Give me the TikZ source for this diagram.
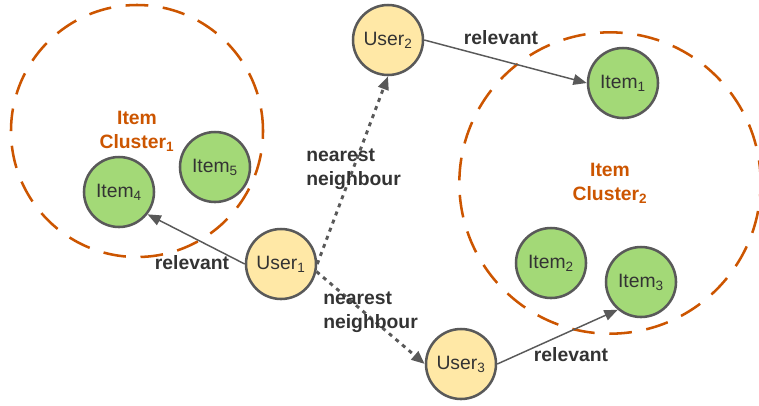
\documentclass[tikz,border=0pt]{standalone}
\usepackage{fontspec}
\setmainfont{Liberation Sans}
\usetikzlibrary{arrows.meta}
\definecolor{usercol}{HTML}{FFE8A6}
\definecolor{itemcol}{HTML}{A3D977}
\definecolor{edgecol}{HTML}{595959}
\definecolor{clustcol}{HTML}{CC5500}
\definecolor{txtcol}{HTML}{333333}
\begin{document}
\begin{tikzpicture}[x=0.75pt,y=-0.75pt]

\tikzset{usernode/.style={circle,minimum size=52.5pt,inner sep=0pt,draw=edgecol,line width=1.9pt,fill=usercol,text=txtcol,font=\fontsize{14.5}{18}\selectfont},}
\tikzset{itemnode/.style={circle,minimum size=52.5pt,inner sep=0pt,draw=edgecol,line width=1.9pt,fill=itemcol,text=txtcol,font=\fontsize{14.5}{18}\selectfont},}
\tikzset{clusternode/.style={circle,inner sep=0pt,draw=clustcol,line width=1.9pt,dash pattern=on 17pt off 11pt,text=clustcol,align=center,font=\bfseries\fontsize{14.5}{18}\selectfont},}
\tikzset{lbl/.style={inner sep=0pt,text=txtcol,align=left,font=\bfseries\fontsize{14.5}{18}\selectfont},}
\tikzset{relarrow/.style={-{Triangle[length=10pt,width=8pt]},edgecol,line width=1.1pt},}
\tikzset{nnarrow/.style={-{Triangle[length=10pt,width=8pt]},edgecol,line width=2.2pt,dash pattern=on 3pt off 3.5pt},}

\useasboundingbox (0,0) rectangle (759,405);

%CLUSTER
\draw (137,131) node [clusternode,minimum size=189pt] (cluster1) {Item\\Cluster\textsubscript{1}};
\draw (610,183) node [clusternode,minimum size=226pt] (cluster2) {Item\\Cluster\textsubscript{2}};

%ITEM
\draw (623,83) node [itemnode] (item1) {Item\textsubscript{1}};
\draw (551,263) node [itemnode] (item2) {Item\textsubscript{2}};
\draw (641,282) node [itemnode] (item3) {Item\textsubscript{3}};
\draw (119,192) node [itemnode] (item4) {Item\textsubscript{4}};
\draw (215,167) node [itemnode] (item5) {Item\textsubscript{5}};

%USER
\draw (281,264) node [usernode] (user1) {User\textsubscript{1}};
\draw (388,40) node [usernode] (user2) {User\textsubscript{2}};
\draw (461,364) node [usernode] (user3) {User\textsubscript{3}};

\draw[relarrow] (user1.west) -- (item4.-38);
\draw[relarrow] (user2.east) -- (item1.west);
\draw[relarrow] (user3.east) -- (item3.230);
\draw[nnarrow] (user1.east) -- (user2.south);
\draw[nnarrow] (user1.-12) -- (user3.west);

\draw (192,263) node[lbl] (rel1) {relevant};
\draw (501,38) node[lbl] (rel2) {relevant};
\draw (571,355) node[lbl] (rel3) {relevant};
\draw (306,169) node[lbl,anchor=west] (nn1) {nearest\\neighbour};
\draw (323,312) node[lbl,anchor=west] (nn2) {nearest\\neighbour};

\end{tikzpicture}
\end{document}
